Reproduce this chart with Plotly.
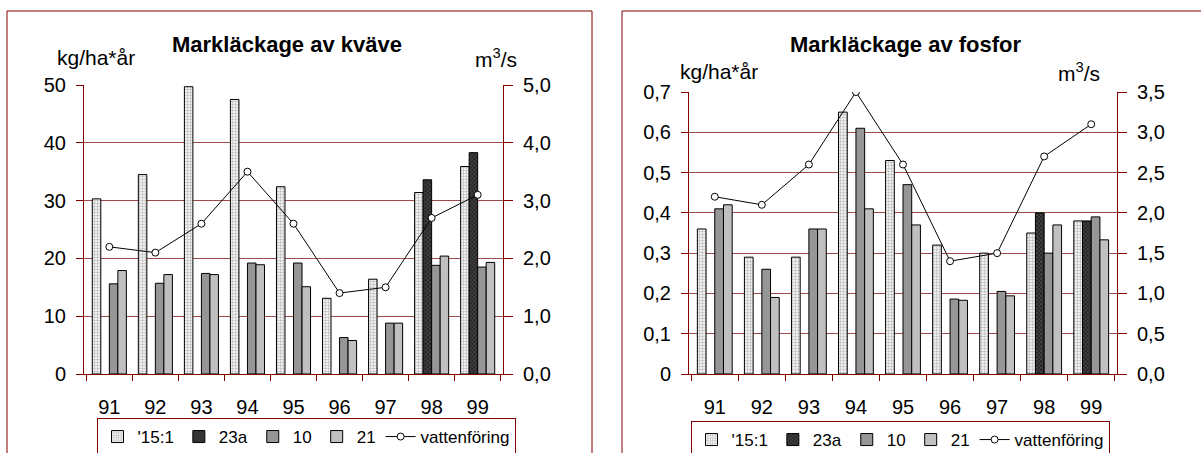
import plotly.graph_objects as go

# Leakage per year and station
years = ["91", "92", "93", "94", "95", "96", "97", "98", "99"]

kvave_15_1 = [30.3, 34.5, 49.7, 47.5, 32.4, 13.1, 16.4, 31.4, 35.9]
kvave_23a = [None, None, None, None, None, None, None, 33.6, 38.3]
kvave_10 = [15.6, 15.7, 17.4, 19.2, 19.2, 6.3, 8.8, 18.8, 18.5]
kvave_21 = [17.9, 17.2, 17.2, 18.9, 15.1, 5.8, 8.8, 20.4, 19.3]

fosfor_15_1 = [0.36, 0.29, 0.29, 0.65, 0.53, 0.32, 0.30, 0.35, 0.38]
fosfor_23a = [None, None, None, None, None, None, None, 0.40, 0.38]
fosfor_10 = [0.41, 0.26, 0.36, 0.61, 0.47, 0.186, 0.205, 0.30, 0.39]
fosfor_21 = [0.42, 0.19, 0.36, 0.41, 0.37, 0.183, 0.194, 0.37, 0.333]

vattenforing = [2.2, 2.1, 2.6, 3.5, 2.6, 1.4, 1.5, 2.7, 3.1]

series_names = ["'15:1", "23a", "10", "21"]

W, H = 1201, 453
FONT = "Liberation Sans, Arial, sans-serif"
MAROON = "#800000"
GRID = "#a04a4a"


def px(x):
    return x / W


def py(y):
    return 1 - y / H


bar_styles = [
    dict(color="white", line=dict(color="black", width=1),
         pattern=dict(shape=".", fgcolor="#7c7c7c", bgcolor="white", size=3, solidity=0.5)),
    dict(color="#2a2a2a", line=dict(color="black", width=1),
         pattern=dict(shape="x", fgcolor="#a0a0a0", bgcolor="#262626", size=3, solidity=0.3)),
    dict(color="#969696", line=dict(color="black", width=1)),
    dict(color="#c0c0c0", line=dict(color="black", width=1)),
]

fig = go.Figure()

panels = [
    dict(x="x", y="y", y2="y2", legend="legend",
         data=[kvave_15_1, kvave_23a, kvave_10, kvave_21]),
    dict(x="x2", y="y3", y2="y4", legend="legend2",
         data=[fosfor_15_1, fosfor_23a, fosfor_10, fosfor_21]),
]

for panel in panels:
    for name, vals, style in zip(series_names, panel["data"], bar_styles):
        fig.add_trace(go.Bar(
            x=years, y=vals, name=name, marker=style,
            xaxis=panel["x"], yaxis=panel["y"], legend=panel["legend"],
        ))
    fig.add_trace(go.Scatter(
        x=years, y=vattenforing, name="vattenföring", mode="lines+markers",
        line=dict(color="black", width=1),
        marker=dict(symbol="circle", size=7, color="white",
                    line=dict(color="black", width=1)),
        xaxis=panel["x"], yaxis=panel["y2"], legend=panel["legend"],
    ))

tickfont = dict(family=FONT, size=20, color="black")

x_common = dict(
    type="category", categoryorder="array", categoryarray=years,
    tickson="boundaries", ticks="outside", ticklen=6, tickcolor=MAROON,
    showline=True, linecolor=MAROON, linewidth=1, showgrid=False,
    tickfont=tickfont, ticklabelstandoff=15,
)
x_inner = dict(
    type="linear", range=[-0.5, 8.5], tickvals=[0.5, 1.5, 2.5, 3.5, 4.5, 5.5, 6.5, 7.5],
    ticks="inside", ticklen=6, tickcolor=MAROON, showticklabels=False,
    showgrid=False, zeroline=False, showline=False,
)
y_left = dict(
    showline=True, linecolor=MAROON, linewidth=1, ticks="outside", ticklen=7,
    tickcolor=MAROON, showgrid=True, gridcolor=GRID, gridwidth=1,
    zeroline=False, tickfont=tickfont, ticklabelstandoff=6,
)
y_right = dict(
    showline=True, linecolor=MAROON, linewidth=1, ticks="outside", ticklen=9,
    tickcolor=MAROON, showgrid=False, zeroline=False, tickformat=".1f",
    tickfont=tickfont, side="right", ticklabelstandoff=6,
)

left_dom = [px(84), px(503)]
right_dom = [px(689), px(1117)]

legend_common = dict(
    orientation="h", xanchor="center", yanchor="top",
    bgcolor="white", bordercolor=MAROON, borderwidth=1,
    font=dict(family=FONT, size=17, color="black"), itemwidth=30,
    tracegroupgap=0,
)

fig.update_layout(
    width=W, height=H,
    margin=dict(l=0, r=0, t=0, b=0, autoexpand=False),
    paper_bgcolor="white", plot_bgcolor="white",
    separators=", ",
    barmode="group", bargap=0.26, bargroupgap=0,
    font=dict(family=FONT, color="black"),
    xaxis=dict(domain=left_dom, anchor="y", **x_common),
    xaxis3=dict(overlaying="x", anchor="y", **x_inner),
    yaxis=dict(domain=[py(374), py(85)], anchor="x", range=[0, 50], dtick=10, **y_left),
    yaxis2=dict(overlaying="y", anchor="x", range=[0, 5], dtick=1, **y_right),
    xaxis2=dict(domain=right_dom, anchor="y3", **x_common),
    xaxis4=dict(overlaying="x2", anchor="y3", **x_inner),
    yaxis3=dict(domain=[py(374), py(92)], anchor="x2", range=[0, 0.7], dtick=0.1, **y_left),
    yaxis4=dict(overlaying="y3", anchor="x2", range=[0, 3.5], dtick=0.5, **y_right),
    legend=dict(x=px(306), y=py(418), **legend_common),
    legend2=dict(x=px(900), y=py(421), **legend_common),
    showlegend=True,
)

# Outer chart frames
fig.add_shape(type="rect", xref="paper", yref="paper",
              x0=px(7), x1=px(592), y0=py(H + 10), y1=py(11),
              line=dict(color=MAROON, width=1), fillcolor="rgba(0,0,0,0)", layer="below")
fig.add_shape(type="rect", xref="paper", yref="paper",
              x0=px(622), x1=px(W + 10), y0=py(H + 10), y1=py(11),
              line=dict(color=MAROON, width=1), fillcolor="rgba(0,0,0,0)", layer="below")

labels = [
    ("<b>Markläckage av kväve</b>", 287, 45, 22),
    ("kg/ha*år", 96, 58, 21),
    ("m<sup>3</sup>/s", 496, 58, 21),
    ("<b>Markläckage av fosfor</b>", 906, 45, 22),
    ("kg/ha*år", 719, 71, 21),
    ("m<sup>3</sup>/s", 1079, 72, 21),
]
for text, cx, cy, size in labels:
    fig.add_annotation(text=text, xref="paper", yref="paper", x=px(cx), y=py(cy),
                       xanchor="center", yanchor="middle", showarrow=False,
                       font=dict(family=FONT, size=size, color="black"))

fig.write_html("out.html")
